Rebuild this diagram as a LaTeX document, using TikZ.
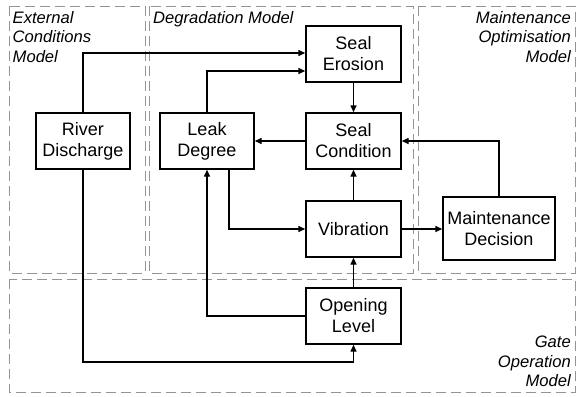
\documentclass[tikz,border=0pt]{standalone}
\usepackage{fontspec}
\setmainfont{Liberation Sans}
\usetikzlibrary{arrows.meta}

\tikzset{
  block/.style={draw=black, line width=1.4bp, fill=white, align=center,
    minimum width=95bp, minimum height=56bp, inner sep=2bp,
    font=\fontsize{18bp}{21bp}\selectfont},
  link/.style={line width=1.4bp, -{Triangle[length=7bp,width=6bp]}},
  zone/.style={draw=black!42, line width=0.9bp, dash pattern=on 10bp off 5bp},
  zonelabel/.style={inner sep=0pt, font=\fontsize{16.6bp}{19.6bp}\selectfont\itshape}
}

\begin{document}
\begin{tikzpicture}[x=1bp, y=-1bp]
  \useasboundingbox (0,0) rectangle (576,396);

  % model zones
  \draw[zone] (9,6) rectangle (145,273);
  \draw[zone] (149,6) rectangle (413,273);
  \draw[zone] (418,6) rectangle (575,273);
  \draw[zone] (9,279) rectangle (575,392);

  \node[zonelabel, anchor=north west, align=left] (extlbl) at (12.5,11) {External\\Conditions\\Model};
  \node[zonelabel, anchor=north west, align=left] (deglbl) at (153,11) {Degradation Model};
  \node[zonelabel, anchor=north east, align=right] (mntlbl) at (571,11) {Maintenance\\Optimisation\\Model};
  \node[zonelabel, anchor=south east, align=right] (gatelbl) at (571,387) {Gate\\Operation\\Model};

  % model variables
  \node[block] (erosion)   at (353.5,54)  {Seal\\Erosion};
  \node[block] (condition) at (353.5,141) {Seal\\Condition};
  \node[block] (vibration) at (353.5,229) {Vibration};
  \node[block] (opening)   at (353.5,316) {Opening\\Level};
  \node[block, minimum width=94bp] (river) at (83,141)  {River\\Discharge};
  \node[block, minimum width=94bp] (leak)  at (207,141) {Leak\\Degree};
  \node[block, minimum width=112bp, minimum height=63bp] (decision) at (499,228.5) {Maintenance\\Decision};

  % influences
  \coordinate (riverturn) at (83,53);
  \coordinate (leakturn) at (207,71);
  \draw[link] (river.north) -- (riverturn) -- (riverturn -| erosion.west);
  \draw[link] (leak.north) -- (leakturn) -- (leakturn -| erosion.west);
  \draw[link] (erosion) -- (condition);
  \draw[link] (condition) -- (leak);
  \draw[link] (decision.north) |- (condition.east);
  \draw[link] (vibration) -- (condition);
  \coordinate (leakout) at (229,169);
  \draw[link] (leakout) |- (vibration.west);
  \draw[link] (vibration) -- (decision.west |- vibration.east);
  \draw[link] (opening) -- (vibration);
  \draw[link] (opening.west) -| (leak.south);
  \coordinate (riverlow) at (83,362);
  \draw[link] (river.south) -- (riverlow) -| (opening.south);
\end{tikzpicture}
\end{document}
